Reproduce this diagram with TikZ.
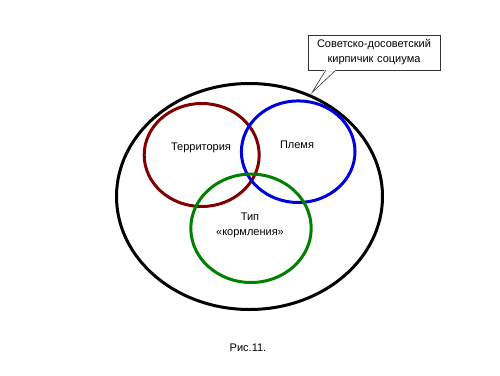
\documentclass[tikz,border=0pt]{standalone}
\usepackage{fontspec}
\setmainfont{Liberation Sans}
\usetikzlibrary{calc}
\definecolor{terr}{RGB}{128,0,0}
\definecolor{plem}{RGB}{0,0,220}
\definecolor{korm}{RGB}{0,128,0}
\begin{document}
\begin{tikzpicture}[x=1pt,y=-1pt,
  ring/.style={line width=3pt},
  lbl/.style={font=\fontsize{11}{13}\selectfont, inner sep=0pt, align=center}]
\useasboundingbox (0,0) rectangle (500,375);
\fill[white] (0,0) rectangle (500,375);
% outer ellipse
\draw[ring, black] (249.5,196.5) ellipse [x radius=133, y radius=113];
% circles
\draw[ring, terr] (201.7,155) ellipse [x radius=57.5, y radius=51.5];
\draw[ring, plem] (298.2,151.7) ellipse [x radius=56.8, y radius=50.8];
\draw[ring, korm] (251,228.3) ellipse [x radius=60.2, y radius=54.2];
% labels
\node[lbl] (t) at (201,148) {Территория};
\node[lbl] (p) at (297,145) {Племя};
\node[lbl, font=\fontsize{11}{15}\selectfont] (k) at (250,225.5) {Тип\\«кормления»};
% callout
\node[lbl, font=\fontsize{11}{15}\selectfont, draw=black!80, line width=0.6pt, fill=white, minimum width=132, minimum height=35, text width=128] (c) at (374,52.5) {Советско-досоветский\\кирпичик социума};
\coordinate (tip) at (312,92.5);
\fill[white] ($(c.south west)+(17,-0.5)$) -- (tip) -- ($(c.south west)+(29,-0.5)$) -- cycle;
\draw[black!80, line width=0.6pt] ($(c.south west)+(18,0)$) -- (tip) -- ($(c.south west)+(28,0)$);
\node[lbl] (fig) at (248,348) {Рис.11.};
\end{tikzpicture}
\end{document}
